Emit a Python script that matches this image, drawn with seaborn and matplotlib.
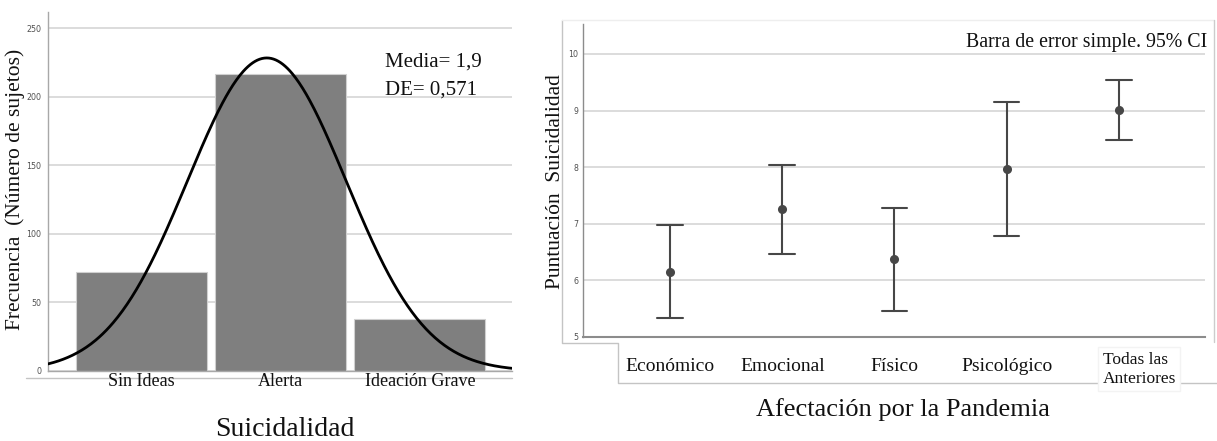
import numpy as np
import pandas as pd
import matplotlib
matplotlib.use("Agg")
import matplotlib.pyplot as plt
import matplotlib.transforms as mtransforms
from matplotlib.lines import Line2D
import seaborn as sns

# ---------------- data ----------------
sui_categories = ["Sin Ideas", "Alerta", "Ideación Grave"]
sui_counts = [72, 217, 38]
sui_mean = 1.9
sui_sd = 0.571
freq_ticks = [0, 50, 100, 150, 200, 250]

afect_categories = ["Económico", "Emocional", "Físico", "Psicológico", "Todas las\nAnteriores"]
afect_means = [6.15, 7.26, 6.37, 7.97, 9.01]
afect_ci_low = [5.33, 6.46, 5.46, 6.78, 8.48]
afect_ci_high = [6.97, 8.04, 7.28, 9.15, 9.54]
score_ticks = [5, 6, 7, 8, 9, 10]

# ---------------- style ----------------
sns.set_theme(style="white")
plt.rcParams["font.family"] = ["Liberation Serif", "DejaVu Serif"]

W, H = 1217, 441
fig = plt.figure(figsize=(W / 100, H / 100), dpi=100)


def rect(x0, y0, x1, y1):
    return [x0 / W, 1 - y1 / H, (x1 - x0) / W, (y1 - y0) / H]


ax1 = fig.add_axes(rect(48, 12, 512, 371))
ax2 = fig.add_axes(rect(582.7, 24, 1205, 336.7))

grid_color = "#d6d6d6"
tick_font = dict(family="DejaVu Sans", fontstretch="condensed", size=6.3, color="#505050")

# ---------------- left: histogram + normal curve ----------------
df1 = pd.DataFrame({"cat": sui_categories, "n": sui_counts})
sns.barplot(data=df1, x="cat", y="n", order=sui_categories, color="#7f7f7f",
            saturation=1, width=0.94, edgecolor="#d0d0d0", linewidth=0.8,
            ax=ax1, zorder=2)
x_lo, x_hi = -0.672, 2.662
xs = np.linspace(x_lo, x_hi, 400)
vals = xs + 1
dens = sum(sui_counts) * np.exp(-0.5 * ((vals - sui_mean) / sui_sd) ** 2) / (sui_sd * np.sqrt(2 * np.pi))
ax1.plot(xs, dens, color="black", lw=2.0, zorder=3, solid_capstyle="round")
ax1.set_xlim(x_lo, x_hi)
ax1.set_ylim(0, 262)
ax1.set_yticks(freq_ticks)
ax1.set_yticklabels([str(t) for t in freq_ticks], **tick_font)
ax1.set_axisbelow(True)
ax1.yaxis.grid(True, color=grid_color, lw=1.2)
ax1.tick_params(axis="y", length=0, pad=5)
ax1.tick_params(axis="x", length=0, pad=1.5)
for lab in ax1.get_xticklabels():
    lab.set_fontsize(13)
    lab.set_color("#111111")
ax1.set_xlabel("")
ax1.set_ylabel("")
for s in ["top", "right"]:
    ax1.spines[s].set_visible(False)
for s in ["left", "bottom"]:
    ax1.spines[s].set_color("#a8a8a8")
    ax1.spines[s].set_linewidth(1.0)

fig.text(285 / W, 1 - 430 / H, "Suicidalidad", ha="center", va="center", fontsize=20, color="#111111")
fig.text(15 / W, 1 - 189 / H, "Frecuencia  (Número de sujetos)", rotation=90,
         ha="center", va="center", fontsize=15.5, color="#111111")
fig.text(385 / W, 1 - 62 / H, f"Media= {sui_mean:.1f}".replace(".", ","), ha="left", va="center",
         fontsize=15, color="#111111")
fig.text(385 / W, 1 - 90 / H, f"DE= {sui_sd:.3f}".replace(".", ","), ha="left", va="center",
         fontsize=15, color="#111111")

# ---------------- right: means with 95% CI ----------------
rows = []
for c, lo, m, hi in zip(afect_categories, afect_ci_low, afect_means, afect_ci_high):
    rows += [(c, lo), (c, m), (c, hi)]
df2 = pd.DataFrame(rows, columns=["cat", "score"])
sns.pointplot(data=df2, x="cat", y="score", order=afect_categories, estimator="median",
              errorbar=lambda v: (v.min(), v.max()), linestyle="none", color="#474747",
              markers="o", markersize=4.5, capsize=0.23, err_kws={"linewidth": 1.5}, ax=ax2)
ax2.set_xlim(-0.78, 4.77)
ax2.set_ylim(5, 10.53)
ax2.set_yticks(score_ticks)
ax2.set_yticklabels([str(t) for t in score_ticks], **tick_font)
ax2.set_axisbelow(True)
ax2.yaxis.grid(True, color=grid_color, lw=1.2)
ax2.tick_params(axis="y", length=0, pad=3)
ax2.tick_params(axis="x", length=0, pad=15)
ax2.set_xlabel("")
ax2.set_ylabel("")
xlabs = ax2.get_xticklabels()
for lab in xlabs:
    lab.set_fontsize(14)
    lab.set_color("#111111")
last = xlabs[-1]
last.set_fontsize(12.5)
last.set_ha("left")
last.set_linespacing(1.25)
last.set_bbox(dict(facecolor="white", edgecolor="#f3f3f3", pad=3))
last.set_transform(last.get_transform() + mtransforms.ScaledTranslation(-16 / 100, 6 / 100, fig.dpi_scale_trans))
for s in ["top", "right"]:
    ax2.spines[s].set_visible(False)
for s in ["left", "bottom"]:
    ax2.spines[s].set_color("#8c8c8c")
ax2.spines["left"].set_linewidth(1.0)
ax2.spines["bottom"].set_linewidth(1.5)

fig.text(903 / W, 1 - 410 / H, "Afectación por la Pandemia", ha="center", va="center",
         fontsize=19, color="#111111")
fig.text(555 / W, 1 - 182 / H, "Puntuación  Suicidalidad", rotation=90, ha="center", va="center",
         fontsize=15.5, color="#111111")
fig.text(966 / W, 1 - 43 / H, "Barra de error simple. 95% CI", ha="left", va="center",
         fontsize=14.3, color="#111111")

# ---------------- frames ----------------
def fline(pts, color="#c4c4c4", lw=1.0, z=0):
    xs_ = [p[0] / W for p in pts]
    ys_ = [1 - p[1] / H for p in pts]
    fig.add_artist(Line2D(xs_, ys_, color=color, lw=lw, zorder=z))

fline([(26, 378), (512, 378)])
fline([(562, 20), (562, 342.7), (618, 342.7), (618, 382.7), (1217, 382.7)])
fline([(562, 20), (1214, 20)], color="#eeeeee")
fline([(1214, 20), (1214, 342)], color="#cccccc")

fig.savefig("out.png", dpi=100)
